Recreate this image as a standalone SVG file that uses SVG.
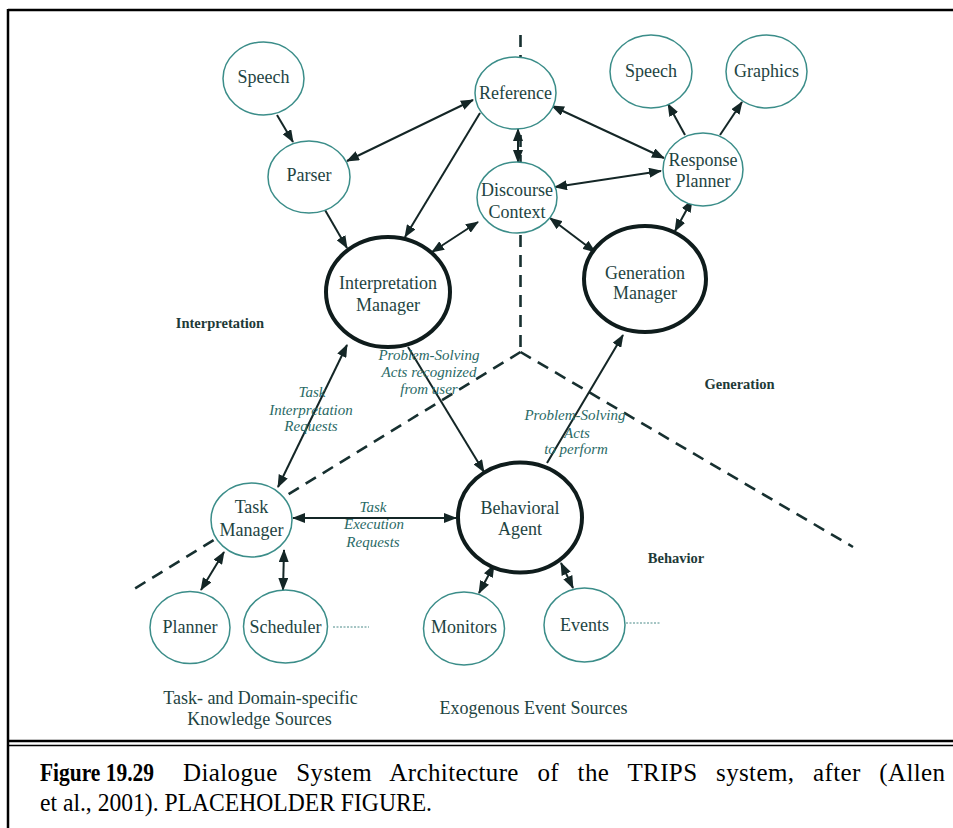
<svg xmlns="http://www.w3.org/2000/svg" width="953" height="828" viewBox="0 0 953 828">
  <style>
    .frame { stroke: #000; fill: none; }
    .div { stroke: #173030; stroke-width: 2.6; stroke-dasharray: 12 8; fill: none; }
    .edge { stroke: #142626; stroke-width: 2; fill: none; }
    .one { marker-end: url(#ah); }
    .two { marker-start: url(#ah); marker-end: url(#ah); }
    .dots { stroke: #4a8a88; stroke-width: 1; stroke-dasharray: 2 1.5; fill: none; }
    .n { fill: #fff; stroke: #3b8d89; stroke-width: 1.5; }
    .big { fill: #fff; stroke: #0f1c1c; stroke-width: 4; }
    .t { font-family: "Liberation Serif", "Times New Roman", serif; font-size: 18px; fill: #1e4442; text-anchor: middle; }
    .lab { font-family: "Liberation Serif", "Times New Roman", serif; font-size: 15px; font-style: italic; fill: #2a6a66; text-anchor: middle; }
    .reg { font-family: "Liberation Serif", "Times New Roman", serif; font-size: 14.5px; font-weight: bold; fill: #1e3a38; text-anchor: middle; }
    .cap { font-family: "Liberation Serif", "Times New Roman", serif; font-size: 25px; fill: #000; }
  </style>
  <defs>
    <marker id="ah" viewBox="0 0 13 10" refX="12" refY="5" markerWidth="13" markerHeight="10" markerUnits="userSpaceOnUse" orient="auto-start-reverse">
      <path d="M0,0 L13,5 L0,10 z" fill="#142626"/>
    </marker>
  </defs>

  <rect width="953" height="828" fill="#fff"/>

  <!-- page frame and caption rule -->
  <g id="frame">
    <line class="frame" x1="8" y1="10" x2="953" y2="10" stroke-width="2.5"/>
    <line class="frame" x1="8" y1="9" x2="8" y2="828" stroke-width="2.5"/>
    <line class="frame" x1="8" y1="741" x2="953" y2="741" stroke-width="2.5"/>
    <line class="frame" x1="8" y1="745.5" x2="953" y2="745.5" stroke-width="1.5"/>
  </g>

  <!-- dashed region dividers -->
  <g id="dividers">
    <line class="div" x1="520.5" y1="35" x2="520.5" y2="352" stroke-width="3"/>
    <line class="div" x1="520.5" y1="352" x2="134" y2="589"/>
    <line class="div" x1="520.5" y1="352" x2="853" y2="547"/>
  </g>

  <!-- connectors -->
  <g id="connectors">
    <line class="edge one" x1="277" y1="115" x2="293" y2="142"/>
    <line class="edge two" x1="473" y1="100" x2="347" y2="161"/>
    <line class="edge one" x1="480" y1="113" x2="405" y2="237"/>
    <line class="edge one" x1="325" y1="210" x2="347" y2="248"/>
    <line class="edge two" x1="478" y1="222" x2="432" y2="252"/>
    <line class="edge two" x1="518" y1="129" x2="518" y2="162"/>
    <line class="edge two" x1="552" y1="106" x2="664" y2="158"/>
    <line class="edge two" x1="555" y1="187" x2="661" y2="171"/>
    <line class="edge two" x1="550" y1="218" x2="595" y2="252"/>
    <line class="edge two" x1="692" y1="200" x2="675" y2="231"/>
    <line class="edge one" x1="685" y1="135" x2="668" y2="104"/>
    <line class="edge one" x1="720" y1="135" x2="742" y2="102"/>
    <line class="edge two" x1="347" y1="345" x2="278" y2="487"/>
    <line class="edge one" x1="408" y1="347" x2="484" y2="472"/>
    <line class="edge one" x1="547" y1="463" x2="623" y2="335"/>
    <line class="edge two" x1="293" y1="518" x2="456" y2="518"/>
    <line class="edge two" x1="224" y1="552" x2="201" y2="590"/>
    <line class="edge two" x1="284" y1="550" x2="283" y2="590"/>
    <line class="edge two" x1="494" y1="565" x2="479" y2="593"/>
    <line class="edge two" x1="561" y1="563" x2="573" y2="588"/>
    <line class="dots" x1="333" y1="627" x2="369" y2="627"/>
    <line class="dots" x1="626" y1="623" x2="660" y2="623"/>

    <text class="lab" x="429" y="360">Problem-Solving</text>
    <text class="lab" x="429" y="377">Acts recognized</text>
    <text class="lab" x="429" y="394">from user</text>

    <text class="lab" x="312" y="397">Task</text>
    <text class="lab" x="311" y="415">Interpretation</text>
    <text class="lab" x="311" y="431">Requests</text>

    <text class="lab" x="373" y="512">Task</text>
    <text class="lab" x="374" y="529">Execution</text>
    <text class="lab" x="373" y="547">Requests</text>

    <text class="lab" x="575" y="420">Problem-Solving</text>
    <text class="lab" x="577" y="438">Acts</text>
    <text class="lab" x="576" y="454">to perform</text>
  </g>

  <!-- nodes -->
  <g id="speech-in"><ellipse class="n" cx="263.5" cy="78.5" rx="40.5" ry="36.5"/><text class="t" x="263.5" y="83">Speech</text></g>
  <g id="parser"><ellipse class="n" cx="309" cy="177" rx="41" ry="36"/><text class="t" x="309" y="181">Parser</text></g>
  <g id="reference"><ellipse class="n" cx="515.5" cy="93" rx="40.5" ry="36"/><text class="t" x="515.5" y="99">Reference</text></g>
  <g id="discourse-context"><ellipse class="n" cx="517" cy="197.5" rx="40" ry="35.5"/><text class="t" x="517" y="196">Discourse</text><text class="t" x="517" y="218">Context</text></g>
  <g id="speech-out"><ellipse class="n" cx="651" cy="71.5" rx="41" ry="36.5"/><text class="t" x="651" y="77">Speech</text></g>
  <g id="graphics"><ellipse class="n" cx="766.5" cy="71.5" rx="40.5" ry="36.5"/><text class="t" x="766.5" y="77">Graphics</text></g>
  <g id="response-planner"><ellipse class="n" cx="703" cy="169.5" rx="40" ry="36.5"/><text class="t" x="703" y="166">Response</text><text class="t" x="703" y="187">Planner</text></g>
  <g id="interpretation-manager"><ellipse class="big" cx="388" cy="292" rx="62" ry="55"/><text class="t" x="388" y="289">Interpretation</text><text class="t" x="388" y="311">Manager</text></g>
  <g id="generation-manager"><ellipse class="big" cx="645" cy="279" rx="61" ry="53"/><text class="t" x="645" y="279">Generation</text><text class="t" x="645" y="299">Manager</text></g>
  <g id="behavioral-agent"><ellipse class="big" cx="520" cy="517.5" rx="62" ry="55"/><text class="t" x="520" y="514">Behavioral</text><text class="t" x="520" y="535">Agent</text></g>
  <g id="task-manager"><ellipse class="n" cx="251.5" cy="520" rx="40.5" ry="37"/><text class="t" x="251.5" y="513">Task</text><text class="t" x="251.5" y="536">Manager</text></g>
  <g id="planner"><ellipse class="n" cx="190" cy="627.5" rx="40" ry="36"/><text class="t" x="190" y="633">Planner</text></g>
  <g id="scheduler"><ellipse class="n" cx="285.5" cy="626.5" rx="42" ry="36.5"/><text class="t" x="285.5" y="633">Scheduler</text></g>
  <g id="monitors"><ellipse class="n" cx="464" cy="628.5" rx="40.5" ry="36.5"/><text class="t" x="464" y="633">Monitors</text></g>
  <g id="events"><ellipse class="n" cx="584.5" cy="625" rx="40.5" ry="37"/><text class="t" x="584.5" y="631">Events</text></g>

  <!-- region and group labels -->
  <g id="labels">
    <text class="reg" x="220" y="328">Interpretation</text>
    <text class="reg" x="739.5" y="389">Generation</text>
    <text class="reg" x="676" y="563">Behavior</text>
    <text class="t" x="260.5" y="704">Task- and Domain-specific</text>
    <text class="t" x="259.5" y="725">Knowledge Sources</text>
    <text class="t" x="533.5" y="714">Exogenous Event Sources</text>
  </g>

  <!-- caption -->
  <g id="caption">
    <text class="cap" x="40" y="781" font-weight="bold" textLength="114" lengthAdjust="spacingAndGlyphs">Figure 19.29</text>
    <text class="cap" x="183" y="781" word-spacing="12" textLength="762" lengthAdjust="spacing">Dialogue System Architecture of the TRIPS system, after (Allen</text>
    <text class="cap" x="40" y="811" textLength="392" lengthAdjust="spacingAndGlyphs">et al., 2001). PLACEHOLDER FIGURE.</text>
  </g>
</svg>
